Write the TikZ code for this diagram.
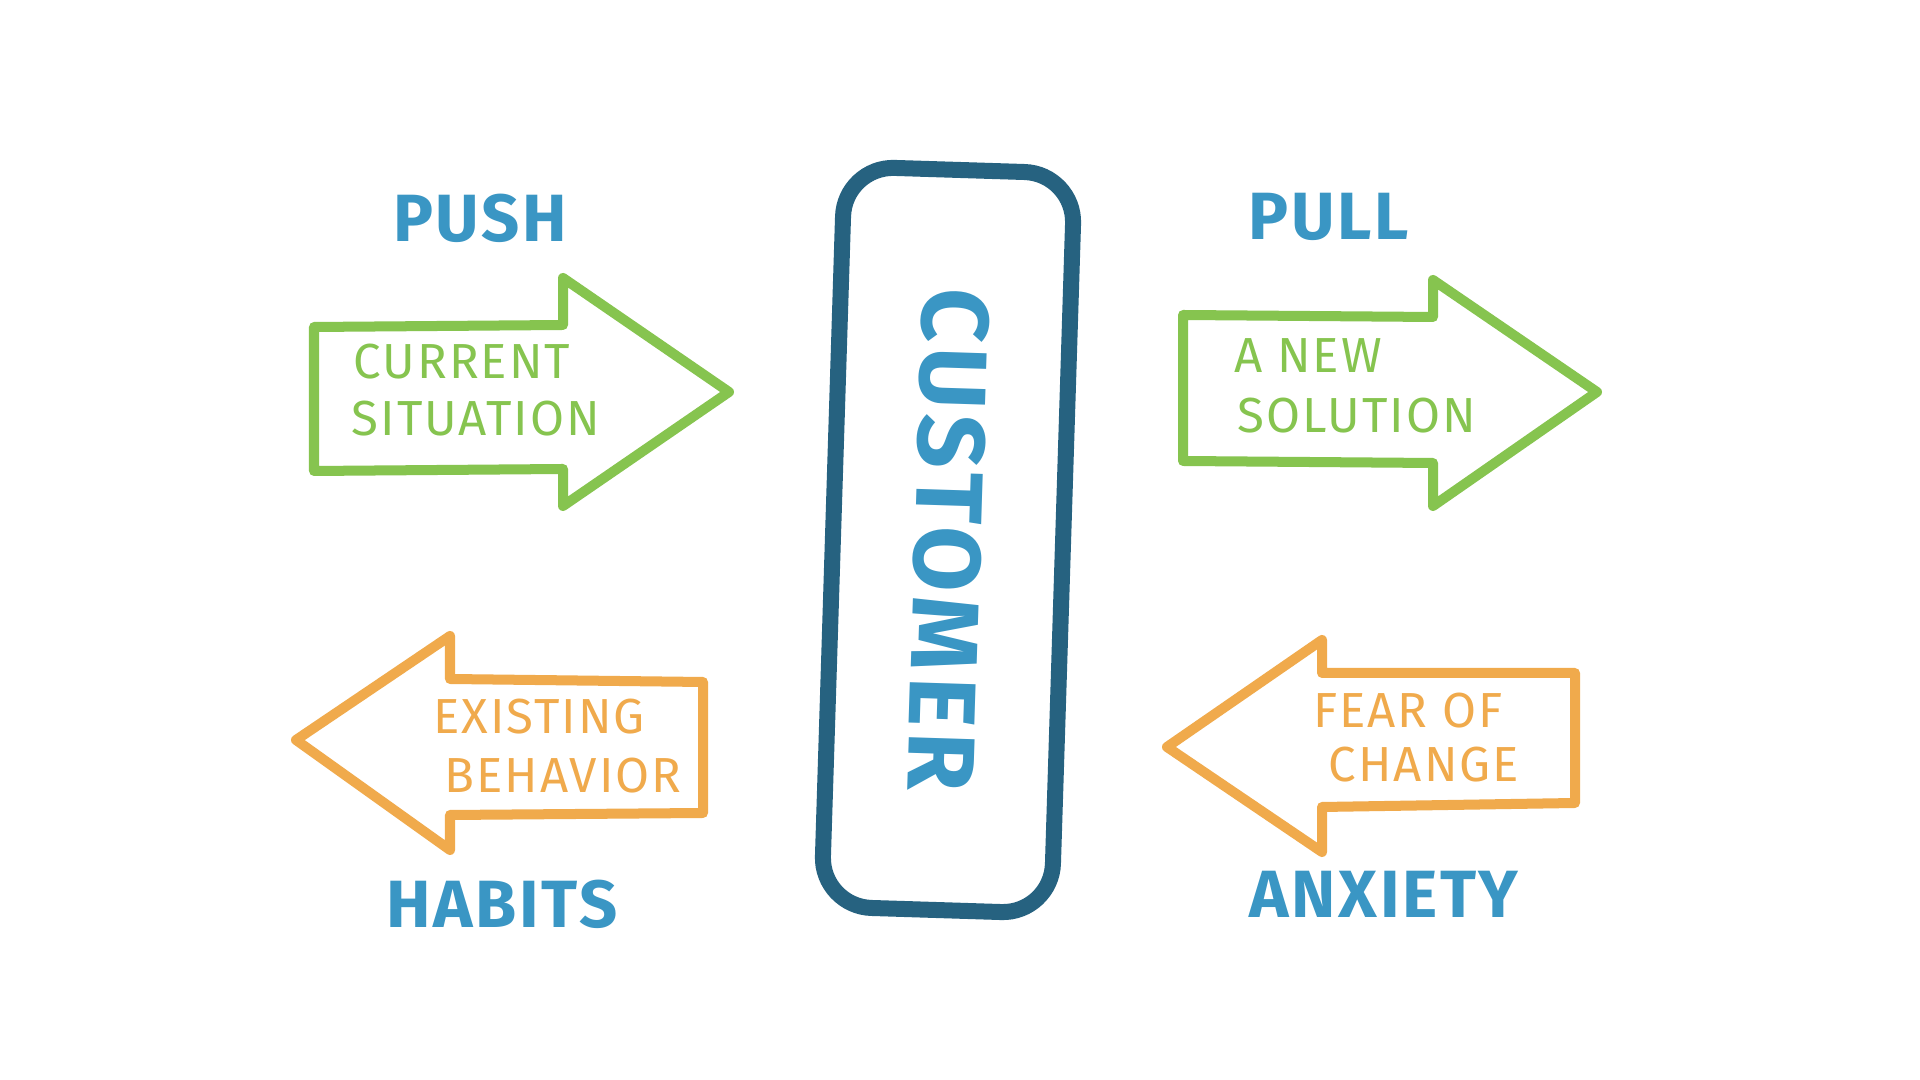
\documentclass[tikz,border=0pt]{standalone}
\usepackage{fontspec}
\setmainfont{Fira Sans}
\newfontfamily\handfont[LetterSpace=4]{Fira Sans}
\newfontfamily\custfont[LetterSpace=6]{Fira Sans}
\usetikzlibrary{positioning}

\definecolor{labelblue}{RGB}{58,150,196}
\definecolor{boxteal}{RGB}{38,98,128}
\definecolor{forcegreen}{RGB}{134,196,79}
\definecolor{forceorange}{RGB}{240,170,76}

\begin{document}
\begin{tikzpicture}[
  x=0.01cm, y=-0.01cm,
  font=\handfont\fontsize{14}{16}\selectfont,
  % Estilos de flechas
  pusharrow/.style={draw=forcegreen, line width=0.1cm, line join=round, line cap=round},
  holdarrow/.style={draw=forceorange, line width=0.1cm, line join=round, line cap=round},
  % Estilos de textos
  forcelabel/.style={text=labelblue, font=\handfont\fontsize{19}{22}\selectfont\bfseries, inner sep=0pt},
  pushtext/.style={text=forcegreen, inner sep=0pt},
  holdtext/.style={text=forceorange, inner sep=0pt},
  % Estilo del cliente
  custbox/.style={draw=boxteal, line width=0.16cm, rounded corners=0.5cm, minimum width=7.4cm, minimum height=2.3cm, text=labelblue, font=\custfont\fontsize{27}{30}\selectfont\bfseries}
]

  \fill[white] (0,0) rectangle (1920,1080);
  \useasboundingbox (0,0) rectangle (1920,1080);

  % ==========================================
  % CUSTOMER
  % ==========================================
  \node[custbox, rotate=-91.8] (customer) at (948,540) {CUSTOMER};

  % ==========================================
  % PUSH: CURRENT SITUATION
  % ==========================================
  \draw[pusharrow] (314,327) -- (563,325) -- (563,278) -- (729,392) -- (563,506) -- (563,469) -- (314,471) -- cycle;
  \node[forcelabel] (push) at (480,218) {PUSH};
  \node[pushtext] (current) at (462,362) {CURRENT};
  \node[pushtext] (situation) at (476,419) {SITUATION};

  % ==========================================
  % PULL: A NEW SOLUTION
  % ==========================================
  \draw[pusharrow] (1183,315) -- (1433,317) -- (1433,280) -- (1597,392) -- (1433,506) -- (1433,463) -- (1183,461) -- cycle;
  \node[forcelabel] (pull) at (1329,217) {PULL};
  \node[pushtext] (anew) at (1308,356) {A NEW};
  \node[pushtext] (solution) at (1357,416) {SOLUTION};

  % ==========================================
  % HABITS: EXISTING BEHAVIOR
  % ==========================================
  \draw[holdarrow] (703,682) -- (450,679) -- (450,636) -- (296,740) -- (450,850) -- (450,815) -- (703,813) -- cycle;
  \node[forcelabel] (habits) at (502,904) {HABITS};
  \node[holdtext] (existing) at (539,717) {EXISTING};
  \node[holdtext] (behavior) at (563,776) {BEHAVIOR};

  % ==========================================
  % ANXIETY: FEAR OF CHANGE
  % ==========================================
  \draw[holdarrow] (1575,673) -- (1322,673) -- (1322,640) -- (1167,747) -- (1322,852) -- (1322,807) -- (1575,803) -- cycle;
  \node[forcelabel] (anxiety) at (1384,894) {ANXIETY};
  \node[holdtext] (fearof) at (1408,711) {FEAR OF};
  \node[holdtext] (change) at (1424,765) {CHANGE};

\end{tikzpicture}
\end{document}
